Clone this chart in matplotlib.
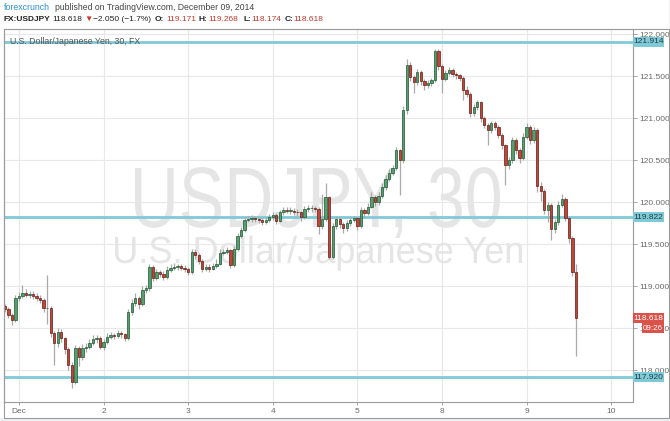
import numpy as np
import matplotlib
matplotlib.use('Agg')
import matplotlib.pyplot as plt
import matplotlib.transforms as mtransforms
from matplotlib.patches import Rectangle, PathPatch
from matplotlib.textpath import TextPath
from matplotlib.font_manager import FontProperties

first_open = 118.76
closes = [
    118.73, 118.66, 118.60, 118.86, 118.88, 118.92, 118.90, 118.91, 118.89, 118.86,
    118.84, 118.74, 118.74, 118.44, 118.32, 118.46, 118.38, 118.25, 118.06, 117.86,
    118.26, 118.16, 118.27, 118.28, 118.33, 118.37, 118.39, 118.28, 118.34, 118.40,
    118.42, 118.41, 118.44, 118.43, 118.38, 118.70, 118.80, 118.86, 118.79, 118.96,
    118.98, 119.23, 119.10, 119.17, 119.15, 119.11, 119.20, 119.22, 119.23, 119.24,
    119.22, 119.21, 119.17, 119.41, 119.37, 119.30, 119.21, 119.23, 119.21, 119.24,
    119.27, 119.40, 119.41, 119.43, 119.25, 119.45, 119.60, 119.67, 119.79, 119.80,
    119.81, 119.80, 119.79, 119.77, 119.79, 119.82, 119.85, 119.78, 119.88, 119.91,
    119.90, 119.90, 119.89, 119.88, 119.82, 119.92, 119.93, 119.93, 119.92, 119.72,
    119.80, 120.06, 119.35, 119.72, 119.80, 119.74, 119.69, 119.75, 119.79, 119.81,
    119.72, 119.91, 119.87, 119.95, 120.06, 120.00, 120.08, 120.18, 120.28, 120.35,
    120.41, 120.62, 120.50, 121.10, 121.64, 121.49, 121.43, 121.55, 121.44, 121.40,
    121.42, 121.45, 121.80, 121.62, 121.47, 121.54, 121.58, 121.53, 121.51, 121.48,
    121.34, 121.29, 121.06, 121.13, 121.19, 121.00, 120.92, 120.86, 120.94, 120.90,
    120.80, 120.68, 120.44, 120.50, 120.74, 120.62, 120.53, 120.78, 120.90, 120.74,
    120.86, 120.20, 120.14, 119.91, 119.97, 119.68, 119.76, 119.97, 120.04, 119.81,
    119.57, 119.171, 118.618,
]
highs = [
    118.79, 118.75, 118.68, 118.90, 118.93, 119.01, 118.97, 118.95, 118.94, 118.92,
    118.90, 118.86, 119.13, 118.76, 118.47, 118.50, 118.49, 118.40, 118.28, 118.10,
    118.30, 118.29, 118.31, 118.33, 118.37, 118.42, 118.42, 118.41, 118.37, 118.44,
    118.46, 118.45, 118.48, 118.47, 118.45, 118.73, 118.85, 118.92, 118.88, 119.00,
    119.02, 119.27, 119.25, 119.21, 119.20, 119.18, 119.24, 119.26, 119.28, 119.27,
    119.27, 119.25, 119.23, 119.45, 119.44, 119.40, 119.32, 119.27, 119.26, 119.28,
    119.32, 119.44, 119.45, 119.47, 119.45, 119.48, 119.64, 119.71, 119.83, 119.84,
    119.85, 119.84, 119.83, 119.81, 119.83, 119.86, 119.89, 119.87, 119.91, 119.95,
    119.94, 119.94, 119.93, 119.92, 119.90, 119.96, 119.97, 119.97, 119.96, 119.94,
    120.10, 120.23, 120.08, 119.75, 119.84, 119.82, 119.76, 119.79, 119.83, 119.84,
    119.83, 119.94, 119.93, 119.99, 120.12, 120.09, 120.12, 120.23, 120.33, 120.40,
    120.45, 120.66, 120.64, 121.15, 121.70, 121.67, 121.52, 121.59, 121.57, 121.47,
    121.46, 121.48, 121.83, 121.82, 121.65, 121.58, 121.61, 121.60, 121.55, 121.53,
    121.50, 121.38, 121.31, 121.17, 121.22, 121.21, 121.03, 120.95, 120.97, 120.97,
    120.92, 120.82, 120.70, 120.54, 120.78, 120.77, 120.65, 120.82, 120.95, 120.92,
    120.90, 120.88, 120.24, 120.16, 120.00, 119.99, 119.80, 120.01, 120.10, 120.06,
    119.83, 119.60, 119.268,
]
lows = [
    118.70, 118.62, 118.54, 118.58, 118.83, 118.86, 118.87, 118.86, 118.85, 118.82,
    118.80, 118.70, 118.55, 118.40, 118.06, 118.28, 118.34, 118.20, 118.00, 117.79,
    117.84, 118.05, 118.12, 118.22, 118.25, 118.30, 118.33, 118.25, 118.24, 118.31,
    118.37, 118.37, 118.38, 118.39, 118.35, 118.36, 118.66, 118.76, 118.73, 118.77,
    118.92, 118.95, 119.06, 119.07, 119.11, 119.07, 119.09, 119.17, 119.19, 119.20,
    119.19, 119.17, 119.13, 119.15, 119.33, 119.26, 119.17, 119.18, 119.17, 119.19,
    119.22, 119.25, 119.37, 119.38, 119.22, 119.23, 119.42, 119.57, 119.65, 119.76,
    119.77, 119.76, 119.75, 119.73, 119.74, 119.77, 119.79, 119.74, 119.76, 119.85,
    119.87, 119.86, 119.85, 119.84, 119.78, 119.80, 119.89, 119.89, 119.88, 119.62,
    119.68, 119.78, 119.33, 119.33, 119.68, 119.70, 119.64, 119.66, 119.72, 119.76,
    119.67, 119.70, 119.83, 119.85, 119.93, 119.96, 119.97, 120.05, 120.15, 120.25,
    120.32, 120.38, 120.09, 120.47, 121.05, 121.44, 121.30, 121.40, 121.40, 121.34,
    121.36, 121.38, 121.43, 121.58, 121.30, 121.44, 121.51, 121.49, 121.47, 121.44,
    121.22, 121.25, 121.02, 121.03, 121.10, 120.96, 120.88, 120.68, 120.83, 120.86,
    120.76, 120.63, 120.21, 120.40, 120.47, 120.58, 120.47, 120.50, 120.75, 120.70,
    120.71, 120.12, 120.02, 119.86, 119.77, 119.55, 119.64, 119.73, 119.94, 119.78,
    119.52, 119.12, 118.174,
]
start_hour = -4          # first bar, hours relative to Dec 1 00:00 (trading-time axis)
day_labels = ['Dec', '2', '3', '4', '5', '8', '9', '10']
price_ticks = [118.0, 118.5, 119.0, 119.5, 120.0, 120.5, 121.0, 121.5, 122.0]
levels = [121.914, 119.822, 117.920]
last_price = 118.618
countdown = '09:26'

# ---------------- figure ----------------
W, H = 670, 421
fig = plt.figure(figsize=(W / 100, H / 100), dpi=100)
fig.patch.set_facecolor('white')

def px(x, y):
    return x / W, 1 - y / H

# outer light-grey strips and frame
fig.add_artist(Rectangle((0, 0), 1, 1 - 418 / H, transform=fig.transFigure,
                         fc='#eef0f2', ec='none', zorder=0))
fig.add_artist(Rectangle((669 / W, 0), 1 - 669 / W, 1, transform=fig.transFigure,
                         fc='#eef0f2', ec='none', zorder=0))
fig.add_artist(Rectangle(px(3.5, 417.5), (668.5 - 3.5) / W, (417.5 - 28.5) / H,
                         transform=fig.transFigure, fc='none', ec='#9b9b9b', lw=0.8, zorder=5))

ax = fig.add_axes([4 / W, 1 - 402 / H, (633 - 4) / W, (402 - 29) / H])
ax.set_facecolor('white')
ax.set_axisbelow(True)

opens = [first_open] + closes[:-1]
n = len(closes)
times = (start_hour + np.arange(n)) / 24.0
bw = 0.66 / 24.0

up_fc, up_ec = '#56a070', '#1f5733'
dn_fc, dn_ec = '#c0463a', '#651b13'

ax.vlines(times, lows, highs, color='#a9a9a9', lw=0.9, zorder=2)
for t, o, c in zip(times, opens, closes):
    up = c >= o
    bottom = min(o, c)
    h = max(abs(c - o), 0.006)
    ax.add_patch(Rectangle((t - bw / 2, bottom), bw, h,
                           fc=up_fc if up else dn_fc, ec=up_ec if up else dn_ec,
                           lw=0.5, zorder=3))

for lv in levels:
    ax.axhline(lv, color='#80c9d6', lw=2.0, zorder=1.5)

# watermark (stretched text paths placed in pixel coordinates)
wm_fp = FontProperties(family='Liberation Sans')
pix = mtransforms.Affine2D().scale(1 / W, 1 / H) + fig.transFigure

def stretched(s, x0, x1, cap_top, baseline, color):
    tp = TextPath((0, 0), s, size=100, prop=wm_fp)
    ext = tp.get_extents()
    cap = TextPath((0, 0), 'H', size=100, prop=wm_fp).get_extents().y1
    sx = (x1 - x0) / ext.width
    sy = (baseline - cap_top) / cap
    tr = (mtransforms.Affine2D().translate(-ext.x0, 0).scale(sx, sy)
          .translate(x0, H - baseline) + pix)
    p = PathPatch(tp, transform=tr, fc=color, ec='none', zorder=1)
    ax.add_artist(p)

stretched('USDJPY, 30', 135, 500, 168, 227, '#e5e5e5')
stretched('U.S. Dollar/Japanese Yen', 115, 522, 237, 263, '#e5e5e5')

ax.set_xlim(-0.177, 7.258)
ax.set_ylim(117.623, 122.063)

ax.set_xticks(range(len(day_labels)))
ax.set_xticklabels(day_labels)
ax.yaxis.tick_right()
ax.set_yticks(price_ticks)
ax.set_yticklabels([f'{v:.3f}' for v in price_ticks])
ax.tick_params(axis='x', length=2, width=0.6, color='#999999', labelsize=6,
               labelcolor='#6a6a6a', pad=2)
ax.tick_params(axis='y', length=3, width=0.6, color='#999999', labelsize=6.0,
               labelcolor='#6a6a6a', pad=1.5)
for lab in ax.get_xticklabels() + ax.get_yticklabels():
    lab.set_family('Liberation Sans')
ax.grid(True, color='#e8e8e8', lw=0.8)
for side in ['left', 'right', 'bottom']:
    ax.spines[side].set_color('#9b9b9b')
    ax.spines[side].set_linewidth(0.8)
ax.spines['top'].set_color('#cfcfcf')
ax.spines['top'].set_linewidth(0.8)

# right-axis labels
ytr = ax.get_yaxis_transform()
bx = 31 / 629
hh = 5.0 / 84
for lv in levels:
    ax.add_patch(Rectangle((1.0, lv - hh), bx, 2 * hh, transform=ytr,
                           fc='#80c9d6', ec='none', clip_on=False, zorder=6))
    ax.text(1.0 + bx / 2, lv, f'{lv:.3f}', transform=ytr, ha='center', va='center',
            fontsize=6.0, color='#1f3f47', family='Liberation Sans', clip_on=False, zorder=7)
ax.add_patch(Rectangle((1.0, last_price - hh), bx, 2 * hh, transform=ytr,
                       fc='#d9534a', ec='none', clip_on=False, zorder=6))
ax.text(1.0 + bx / 2, last_price, f'{last_price:.3f}', transform=ytr, ha='center',
        va='center', fontsize=6.0, color='white', family='Liberation Sans',
        clip_on=False, zorder=7)
ax.add_patch(Rectangle((1.0 + 9 / 629, last_price - hh - 9.5 / 84), bx - 9 / 629, 9.5 / 84,
                       transform=ytr, fc='#d9534a', ec='none', clip_on=False, zorder=6))
ax.text(1.0 + (bx + 9 / 629) / 2, last_price - hh - 4.75 / 84, countdown, transform=ytr,
        ha='center', va='center', fontsize=5.8, color='white', family='Liberation Sans',
        clip_on=False, zorder=7)

# chart title inside plot
fig.text(*px(10, 41), 'U.S. Dollar/Japanese Yen, 30, FX', fontsize=6.3, color='#555555',
         family='Liberation Sans', ha='left', va='center', zorder=8)

# header
fam = ['Liberation Sans', 'DejaVu Sans']
fig.text(*px(4, 7), 'forexcrunch', fontsize=6.3, color='#2a8fd3', family=fam, va='center')
fig.text(*px(55, 7), 'published on TradingView.com, December 09, 2014', fontsize=6.2,
         color='#444444', family=fam, va='center')
row = [
    (4, 'FX:USDJPY', '#222222', 'bold'),
    (52, '118.618', '#222222', 'normal'),
    (84, '\u25bc', '#c0392b', 'normal'),
    (93, '\u22122.050 (\u22121.7%)', '#222222', 'normal'),
    (155, 'O:', '#222222', 'bold'),
    (166, '119.171', '#c0392b', 'normal'),
    (198.5, 'H:', '#222222', 'bold'),
    (208.5, '119.268', '#c0392b', 'normal'),
    (243.5, 'L:', '#222222', 'bold'),
    (251.5, '118.174', '#c0392b', 'normal'),
    (284.5, 'C:', '#222222', 'bold'),
    (293.5, '118.618', '#c0392b', 'normal'),
]
for x, s, col, wt in row:
    fig.text(*px(x, 19.5), s, fontsize=6.0, color=col, weight=wt, family=fam, va='center')

fig.savefig('out.png', dpi=100, facecolor=fig.get_facecolor())
